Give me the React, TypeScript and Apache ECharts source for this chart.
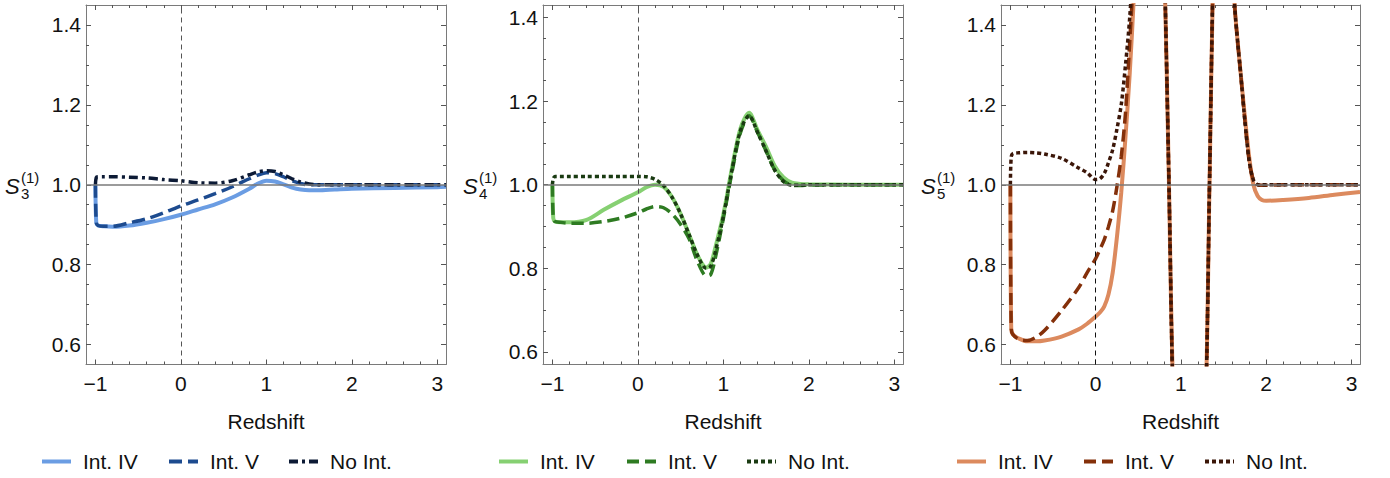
import React, { useEffect, useRef } from 'react';
import * as echarts from 'echarts';

// ---------- tick values ----------
const xTicks = [-1, 0, 1, 2, 3];
const xMinorTicks = [-0.8, -0.6, -0.4, -0.2, 0.2, 0.4, 0.6, 0.8, 1.2, 1.4, 1.6, 1.8, 2.2, 2.4, 2.6, 2.8];
const yTicks = [0.6, 0.8, 1.0, 1.2, 1.4];
const yMinorTicks = [0.65, 0.7, 0.75, 0.85, 0.9, 0.95, 1.05, 1.1, 1.15, 1.25, 1.3, 1.35];

// ---------- panel 1: S3 ----------
const zS3 = [-1, -0.99, -0.97, -0.9, -0.8, -0.6, -0.4, -0.2, 0, 0.2, 0.4, 0.6, 0.8, 0.9, 1.0, 1.1, 1.2, 1.3, 1.4, 1.5, 1.6, 1.8, 2.0, 2.5, 3.0, 3.1];
const s3IntIV = [1.0, 0.905, 0.898, 0.896, 0.895, 0.898, 0.905, 0.914, 0.925, 0.938, 0.951, 0.968, 0.99, 1.003, 1.01, 1.008, 1.001, 0.993, 0.988, 0.986, 0.986, 0.988, 0.99, 0.992, 0.994, 0.995];
const s3IntV = [1.0, 0.905, 0.898, 0.896, 0.896, 0.905, 0.915, 0.93, 0.947, 0.962, 0.978, 0.995, 1.015, 1.024, 1.03, 1.028, 1.02, 1.01, 1.003, 1.0, 1.0, 1.0, 1.0, 1.0, 1.0, 1.0];
const s3NoInt = [1.0, 1.018, 1.02, 1.02, 1.02, 1.019, 1.017, 1.013, 1.01, 1.005, 1.004, 1.01, 1.025, 1.032, 1.035, 1.033, 1.025, 1.015, 1.007, 1.002, 1.0, 1.0, 1.0, 1.0, 1.0, 1.0];

// ---------- panel 2: S4 ----------
const zS4 = [-1, -0.99, -0.97, -0.9, -0.8, -0.6, -0.4, -0.2, 0, 0.1, 0.2, 0.3, 0.4, 0.5, 0.6, 0.7, 0.8, 0.85, 0.9, 1.0, 1.1, 1.2, 1.3, 1.4, 1.5, 1.6, 1.7, 1.8, 1.9, 2.0, 2.5, 3.0, 3.1];
const s4IntIV = [1.0, 0.92, 0.912, 0.91, 0.91, 0.916, 0.94, 0.962, 0.982, 0.994, 1.0, 0.995, 0.97, 0.93, 0.88, 0.83, 0.802, 0.81, 0.845, 0.93, 1.04, 1.135, 1.172, 1.13, 1.09, 1.045, 1.018, 1.005, 1.002, 1.001, 1.0, 1.0, 1.0];
const s4IntV = [1.0, 0.92, 0.912, 0.91, 0.908, 0.908, 0.912, 0.92, 0.933, 0.942, 0.948, 0.945, 0.93, 0.905, 0.87, 0.815, 0.782, 0.785, 0.82, 0.92, 1.03, 1.125, 1.165, 1.125, 1.08, 1.035, 1.01, 0.999, 0.998, 0.999, 1.0, 1.0, 1.0];
const s4NoInt = [1.0, 1.015, 1.02, 1.02, 1.02, 1.02, 1.02, 1.02, 1.02, 1.019, 1.013, 0.998, 0.97, 0.93, 0.88, 0.83, 0.8, 0.805, 0.835, 0.925, 1.035, 1.13, 1.165, 1.125, 1.08, 1.035, 1.008, 0.999, 0.999, 1.0, 1.0, 1.0, 1.0];

// ---------- panel 3: S5 ----------
const zS5 = [-1, -0.99, -0.97, -0.9, -0.8, -0.7, -0.6, -0.4, -0.2, -0.1, 0, 0.05, 0.1, 0.15, 0.2, 0.25, 0.3, 0.35, 0.4, 0.45, 0.5, 0.6, 0.7, 0.8, 0.86, 0.91, 1.0, 1.1, 1.2, 1.29, 1.335, 1.38, 1.45, 1.55, 1.6, 1.63, 1.66, 1.7, 1.75, 1.8, 1.85, 1.9, 1.95, 2.0, 2.2, 2.5, 2.8, 3.1];
const s5IntIV = [1.0, 0.64, 0.625, 0.615, 0.608, 0.608, 0.61, 0.62, 0.638, 0.652, 0.67, 0.68, 0.695, 0.725, 0.78, 0.87, 0.98, 1.12, 1.28, 1.48, 1.75, 2.3, 2.3, 1.6, 1.0, 0.45, 0.0, -0.3, 0.0, 0.45, 1.0, 1.55, 2.1, 2.1, 1.62, 1.45, 1.37, 1.28, 1.17, 1.07, 1.0, 0.972, 0.962, 0.96, 0.962, 0.967, 0.975, 0.982];
const s5IntV = [1.0, 0.64, 0.625, 0.613, 0.61, 0.618, 0.635, 0.685, 0.742, 0.78, 0.815, 0.838, 0.862, 0.895, 0.935, 0.996, 1.07, 1.18, 1.36, 1.55, 1.8, 2.3, 2.3, 1.6, 1.0, 0.45, 0.0, -0.3, 0.0, 0.45, 1.0, 1.55, 2.1, 2.1, 1.62, 1.45, 1.37, 1.28, 1.16, 1.06, 1.012, 1.0, 0.999, 0.999, 1.0, 1.0, 1.0, 1.0];
const s5NoInt = [1.0, 1.07, 1.078, 1.08, 1.081, 1.08, 1.077, 1.066, 1.042, 1.03, 1.013, 1.015, 1.028, 1.055, 1.088, 1.14, 1.2, 1.3, 1.42, 1.6, 1.85, 2.3, 2.3, 1.6, 1.0, 0.45, 0.0, -0.3, 0.0, 0.45, 1.0, 1.55, 2.1, 2.1, 1.62, 1.45, 1.37, 1.28, 1.16, 1.06, 1.012, 1.0, 1.0, 1.0, 1.0, 1.0, 1.0, 1.0];

const seriesKeys = ['IV', 'V', 'No'];
const legendLabels: Record<string, string> = { IV: 'Int. IV', V: 'Int. V', No: 'No Int.' };

const FONT = '"Liberation Sans", Arial, Helvetica, sans-serif';
const TEXT = '#111111';
const FRAME = '#7a7a7a';

const panels = [
  {
    left: 86, width: 360, yMin: 0.55, yMax: 1.45, sub: '3', labelX: 5,
    z: zS3, values: [s3IntIV, s3IntV, s3NoInt],
    colors: ['#6b9de3', '#1d4b8f', '#0c1a35'],
    dashes: ['solid', [13, 6], [9, 4, 3, 4]] as any[],
    legendLeft: [40, 167, 287],
    zeroLine: '#555',
  },
  {
    left: 543, width: 360, yMin: 0.57, yMax: 1.43, sub: '4', labelX: 463,
    z: zS4, values: [s4IntIV, s4IntV, s4NoInt],
    colors: ['#86d072', '#2e7b22', '#1a3b12'],
    dashes: ['solid', [12, 6], [4, 3]] as any[],
    legendLeft: [497, 625, 745],
    zeroLine: '#555',
  },
  {
    left: 1001, width: 359, yMin: 0.55, yMax: 1.45, sub: '5', labelX: 921,
    z: zS5, values: [s5IntIV, s5IntV, s5NoInt],
    colors: ['#dc8a5e', '#84300a', '#3b1608'],
    dashes: ['solid', [12, 6], [4, 3]] as any[],
    legendLeft: [955, 1082, 1203],
    zeroLine: '#111',
  },
];

const X_MIN = -1.11;
const X_MAX = 3.1;

function buildOption() {
  const grid: any[] = [];
  const xAxis: any[] = [];
  const yAxis: any[] = [];
  const series: any[] = [];
  const legend: any[] = [];
  const graphic: any[] = [];

  panels.forEach((p, i) => {
    grid.push({ left: p.left, top: 5, width: p.width, height: 359.5, containLabel: false });

    const tickLine = { color: '#555', width: 1 };
    const frameLine = { show: true, onZero: false, lineStyle: { color: FRAME, width: 1 } };
    const noLine = { show: false, onZero: false };
    // x axes: main bottom, minor bottom, top, minor top
    xAxis.push({
      type: 'value', gridIndex: i, min: X_MIN, max: X_MAX, position: 'bottom',
      axisLine: frameLine,
      axisTick: { show: true, inside: true, length: 5, customValues: xTicks, lineStyle: tickLine },
      axisLabel: {
        show: true, customValues: xTicks, margin: 8, fontSize: 21, color: TEXT, fontFamily: FONT,
        formatter: (v: number) => (v < 0 ? '\u2212' + Math.abs(v) : String(v)),
      },
      splitLine: { show: false },
      name: 'Redshift', nameLocation: 'middle', nameGap: 46,
      nameTextStyle: { fontSize: 21, color: TEXT, fontFamily: FONT },
    });
    xAxis.push({
      type: 'value', gridIndex: i, min: X_MIN, max: X_MAX, position: 'bottom',
      axisLine: noLine, axisLabel: { show: false }, splitLine: { show: false },
      axisTick: { show: true, inside: true, length: 3, customValues: xMinorTicks, lineStyle: tickLine },
    });
    xAxis.push({
      type: 'value', gridIndex: i, min: X_MIN, max: X_MAX, position: 'top',
      axisLine: frameLine, axisLabel: { show: false }, splitLine: { show: false },
      axisTick: { show: true, inside: true, length: 5, customValues: xTicks, lineStyle: tickLine },
    });
    xAxis.push({
      type: 'value', gridIndex: i, min: X_MIN, max: X_MAX, position: 'top',
      axisLine: noLine, axisLabel: { show: false }, splitLine: { show: false },
      axisTick: { show: true, inside: true, length: 3, customValues: xMinorTicks, lineStyle: tickLine },
    });

    yAxis.push({
      type: 'value', gridIndex: i, min: p.yMin, max: p.yMax, position: 'left',
      axisLine: frameLine,
      axisTick: { show: true, inside: true, length: 5, customValues: yTicks, lineStyle: tickLine },
      axisLabel: {
        show: true, customValues: yTicks, margin: 5, fontSize: 21, color: TEXT, fontFamily: FONT,
        formatter: (v: number) => v.toFixed(1),
      },
      splitLine: { show: false },
    });
    yAxis.push({
      type: 'value', gridIndex: i, min: p.yMin, max: p.yMax, position: 'left',
      axisLine: noLine, axisLabel: { show: false }, splitLine: { show: false },
      axisTick: { show: true, inside: true, length: 3, customValues: yMinorTicks, lineStyle: tickLine },
    });
    yAxis.push({
      type: 'value', gridIndex: i, min: p.yMin, max: p.yMax, position: 'right',
      axisLine: frameLine, axisLabel: { show: false }, splitLine: { show: false },
      axisTick: { show: true, inside: true, length: 5, customValues: yTicks, lineStyle: tickLine },
    });
    yAxis.push({
      type: 'value', gridIndex: i, min: p.yMin, max: p.yMax, position: 'right',
      axisLine: noLine, axisLabel: { show: false }, splitLine: { show: false },
      axisTick: { show: true, inside: true, length: 3, customValues: yMinorTicks, lineStyle: tickLine },
    });

    const xi = i * 4;
    const yi = i * 4;

    // reference lines y = 1 and x = 0
    series.push({
      type: 'line', name: 'ref-' + i, xAxisIndex: xi, yAxisIndex: yi, data: [], symbol: 'none', silent: true, z: 1,
      markLine: {
        silent: true, symbol: ['none', 'none'], label: { show: false }, animation: false,
        emphasis: { disabled: true },
        data: [
          { yAxis: 1, lineStyle: { color: '#7a7a7a', width: 1.5, type: 'solid' } },
          { xAxis: 0, lineStyle: { color: p.zeroLine, width: 1, type: [5, 4] } },
        ],
      },
    });

    seriesKeys.forEach((key, k) => {
      const name = key + '-' + i;
      const w = k === 0 ? 4 : 3.5;
      series.push({
        type: 'line', name, xAxisIndex: xi, yAxisIndex: yi,
        data: p.z.map((x, j) => [x, p.values[k][j]]),
        symbol: 'none', showSymbol: false, smooth: 0.3, clip: true, z: 2 + k,
        lineStyle: { color: p.colors[k], width: w, type: p.dashes[k], cap: 'butt' },
        itemStyle: { color: p.colors[k] },
        emphasis: { disabled: true },
      });
      legend.push({
        show: true, data: [name], left: p.legendLeft[k], top: 451, padding: 0,
        itemWidth: 29, itemHeight: 14, selectedMode: false,
        itemStyle: { opacity: 0 },
        lineStyle: { width: 4 },
        formatter: (n: string) => legendLabels[n.split('-')[0]],
        textStyle: { fontSize: 21, color: TEXT, fontFamily: FONT, padding: [0, 0, 0, 7] },
      });
    });

    // y axis label S_n^(1)
    graphic.push({
      type: 'text', x: p.labelX, y: 186,
      style: { text: 'S', fontSize: 22, fontStyle: 'italic', fontFamily: FONT, fill: TEXT, verticalAlign: 'middle', align: 'left' },
    });
    graphic.push({
      type: 'text', x: p.labelX + 16, y: 193,
      style: { text: p.sub, fontSize: 15, fontFamily: FONT, fill: TEXT, verticalAlign: 'middle', align: 'left' },
    });
    graphic.push({
      type: 'text', x: p.labelX + 16, y: 177,
      style: { text: '(1)', fontSize: 15, fontFamily: FONT, fill: TEXT, verticalAlign: 'middle', align: 'left' },
    });
  });

  return {
    animation: false,
    backgroundColor: '#ffffff',
    textStyle: { fontFamily: FONT },
    grid, xAxis, yAxis, series, legend, graphic,
  };
}

export default function App() {
  const ref = useRef<HTMLDivElement>(null);
  useEffect(() => {
    if (!ref.current) return;
    const chart = echarts.init(ref.current, undefined, { renderer: 'svg' });
    chart.setOption(buildOption() as any);
    return () => chart.dispose();
  }, []);
  return (
    <div
      ref={ref}
      style={{ position: 'absolute', left: 0, top: 0, width: 1390, height: 478, background: '#fff' }}
    />
  );
}
